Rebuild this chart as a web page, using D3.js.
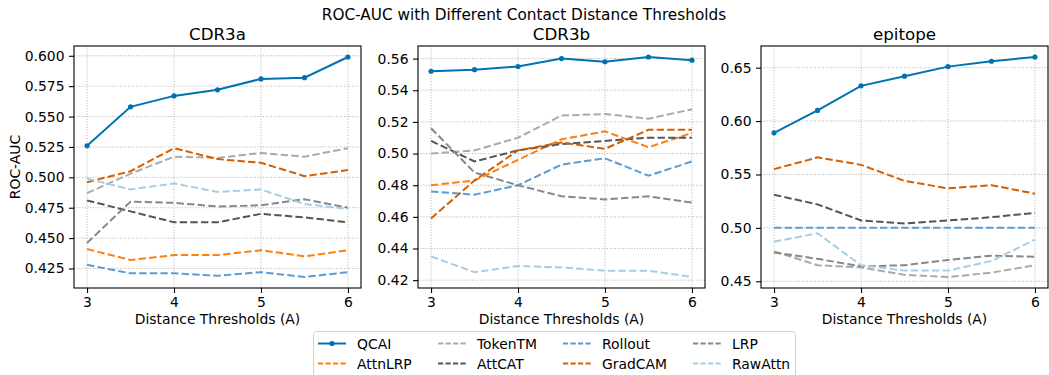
<!DOCTYPE html>
<html>
<head>
    <meta charset="UTF-8">
    <title>ROC-AUC thresholds</title>
    <style>
        body {
            margin: 0;
            overflow: hidden;
            background-color: #ffffff;
        }
        text {
            font-family: "DejaVu Sans", sans-serif;
            fill: #000;
        }
    </style>
    <script src="https://cdn.jsdelivr.net/npm/d3@7"></script>
</head>
<body>
    <script>
        // x values (distance thresholds) and methods, in plot order
        const thresholds = [3, 3.5, 4, 4.5, 5, 5.5, 6];
        const xTicks = [3, 4, 5, 6];
        const methods = ["QCAI", "AttnLRP", "TokenTM", "AttCAT", "Rollout", "GradCAM", "LRP", "RawAttn"];
        const panelNames = ["CDR3a", "CDR3b", "epitope"];

        // values per method (same order as methods)
        const cdr3aValues = [
            [0.526, 0.558, 0.567, 0.572, 0.581, 0.582, 0.599],
            [0.441, 0.432, 0.436, 0.436, 0.440, 0.435, 0.440],
            [0.487, 0.503, 0.517, 0.516, 0.520, 0.517, 0.524],
            [0.481, 0.472, 0.463, 0.463, 0.470, 0.467, 0.463],
            [0.428, 0.421, 0.421, 0.419, 0.422, 0.418, 0.422],
            [0.496, 0.505, 0.524, 0.515, 0.512, 0.501, 0.506],
            [0.446, 0.480, 0.479, 0.476, 0.477, 0.482, 0.475],
            [0.499, 0.490, 0.495, 0.488, 0.490, 0.478, 0.474]
        ];
        const cdr3bValues = [
            [0.552, 0.553, 0.555, 0.560, 0.558, 0.561, 0.559],
            [0.480, 0.483, 0.496, 0.509, 0.514, 0.504, 0.513],
            [0.500, 0.502, 0.510, 0.524, 0.525, 0.522, 0.528],
            [0.508, 0.495, 0.502, 0.506, 0.508, 0.510, 0.510],
            [0.476, 0.474, 0.480, 0.493, 0.497, 0.486, 0.495],
            [0.459, 0.483, 0.502, 0.507, 0.503, 0.515, 0.515],
            [0.516, 0.488, 0.480, 0.473, 0.471, 0.473, 0.469],
            [0.435, 0.425, 0.429, 0.428, 0.426, 0.426, 0.422]
        ];
        // AttnLRP is not visible in the epitope panel
        const epitopeValues = [
            [0.589, 0.610, 0.633, 0.642, 0.651, 0.656, 0.660],
            [null, null, null, null, null, null, null],
            [0.478, 0.465, 0.463, 0.456, 0.454, 0.458, 0.465],
            [0.531, 0.522, 0.507, 0.504, 0.507, 0.510, 0.514],
            [0.500, 0.500, 0.500, 0.500, 0.500, 0.500, 0.500],
            [0.555, 0.566, 0.559, 0.544, 0.537, 0.540, 0.532],
            [0.477, 0.471, 0.464, 0.465, 0.470, 0.474, 0.473],
            [0.487, 0.495, 0.465, 0.460, 0.460, 0.469, 0.489]
        ];
        const yTicksA = [0.425, 0.45, 0.475, 0.5, 0.525, 0.55, 0.575, 0.6];
        const yTicksB = [0.42, 0.44, 0.46, 0.48, 0.5, 0.52, 0.54, 0.56];
        const yTicksE = [0.45, 0.5, 0.55, 0.6, 0.65];

        const colors = ["#0072b2", "#ff7f0e", "#aaaaaa", "#555555", "#5b9bd5", "#d55e00", "#888888", "#a6cee3"];

        const width = 1049, height = 375;
        const svg = d3.select("body").append("svg")
            .attr("width", width).attr("height", height);

        const fs = 13.9;
        const panelLeft = [74, 418, 761];
        const pw = 287, plotTop = 46, plotBottom = 288;

        svg.append("text")
            .attr("x", 524).attr("y", 20)
            .attr("text-anchor", "middle")
            .style("font-size", "15.3px")
            .text("ROC-AUC with Different Contact Distance Thresholds");

        const allData = [cdr3aValues, cdr3bValues, epitopeValues];
        const allTicks = [yTicksA, yTicksB, yTicksE];
        const fmts = [d3.format(".3f"), d3.format(".2f"), d3.format(".2f")];

        allData.forEach((vals, p) => {
            const left = panelLeft[p];
            const g = svg.append("g");

            const x = d3.scaleLinear().domain([2.85, 6.15]).range([left, left + pw]);
            const [lo, hi] = d3.extent(vals.flat().filter(v => v != null));
            const pad = (hi - lo) * 0.05;
            const y = d3.scaleLinear().domain([lo - pad, hi + pad]).range([plotBottom, plotTop]);

            // grid
            g.selectAll(".gx").data(xTicks).join("line")
                .attr("x1", d => x(d)).attr("x2", d => x(d))
                .attr("y1", plotTop).attr("y2", plotBottom)
                .attr("stroke", "#b0b0b0").attr("stroke-width", 1)
                .attr("stroke-dasharray", "1,1.7");
            g.selectAll(".gy").data(allTicks[p]).join("line")
                .attr("x1", left).attr("x2", left + pw)
                .attr("y1", d => y(d)).attr("y2", d => y(d))
                .attr("stroke", "#b0b0b0").attr("stroke-width", 1)
                .attr("stroke-dasharray", "1,1.7");

            // lines
            const line = d3.line()
                .defined(d => d != null)
                .x((d, i) => x(thresholds[i]))
                .y(d => y(d));
            vals.forEach((v, m) => {
                if (v.every(d => d == null)) return;
                g.append("path")
                    .datum(v)
                    .attr("d", line)
                    .attr("fill", "none")
                    .attr("stroke", colors[m])
                    .attr("stroke-width", 2)
                    .attr("stroke-dasharray", m === 0 ? null : "7.4,3.2");
                if (m === 0) {
                    g.selectAll(".dot").data(v).join("circle")
                        .attr("cx", (d, i) => x(thresholds[i]))
                        .attr("cy", d => y(d))
                        .attr("r", 2.6)
                        .attr("fill", colors[m]);
                }
            });

            // frame
            g.append("rect")
                .attr("x", left).attr("y", plotTop)
                .attr("width", pw).attr("height", plotBottom - plotTop)
                .attr("fill", "none").attr("stroke", "#000").attr("stroke-width", 1.1);

            // axes
            const ax = g.append("g")
                .attr("transform", `translate(0,${plotBottom})`)
                .call(d3.axisBottom(x).tickValues(xTicks).tickFormat(d3.format("d"))
                    .tickSize(5).tickPadding(4));
            const ay = g.append("g")
                .attr("transform", `translate(${left},0)`)
                .call(d3.axisLeft(y).tickValues(allTicks[p]).tickFormat(fmts[p])
                    .tickSize(5).tickPadding(4.5));
            [ax, ay].forEach(a => {
                a.select(".domain").remove();
                a.selectAll("text").style("font-size", fs + "px")
                    .style("font-family", "DejaVu Sans").attr("fill", "#000");
                a.selectAll("line").attr("stroke", "#000").attr("stroke-width", 1.1);
            });

            // titles and labels
            g.append("text")
                .attr("x", left + pw / 2).attr("y", 40)
                .attr("text-anchor", "middle")
                .style("font-size", "16.7px")
                .text(panelNames[p]);
            g.append("text")
                .attr("x", left + pw / 2).attr("y", 324)
                .attr("text-anchor", "middle")
                .style("font-size", fs + "px")
                .text("Distance Thresholds (A)");
        });

        svg.append("text")
            .attr("transform", `translate(20,${(plotTop + plotBottom) / 2}) rotate(-90)`)
            .attr("text-anchor", "middle")
            .style("font-size", fs + "px")
            .text("ROC-AUC");

        // legend
        const lg = svg.append("g");
        lg.append("rect")
            .attr("x", 313.5).attr("y", 331.5)
            .attr("width", 482).attr("height", 60)
            .attr("rx", 3)
            .attr("fill", "#fff").attr("fill-opacity", 0.8)
            .attr("stroke", "#d0d0d0").attr("stroke-width", 1);
        const colX = [318, 438, 563, 693];
        const rowY = [343.5, 363.5];
        methods.forEach((name, m) => {
            const cx = colX[Math.floor(m / 2)];
            const cy = rowY[m % 2];
            lg.append("line")
                .attr("x1", cx).attr("x2", cx + 28)
                .attr("y1", cy).attr("y2", cy)
                .attr("stroke", colors[m]).attr("stroke-width", 2)
                .attr("stroke-dasharray", m === 0 ? null : "5.2,2.3");
            if (m === 0) {
                lg.append("circle").attr("cx", cx + 14).attr("cy", cy)
                    .attr("r", 2.6).attr("fill", colors[m]);
            }
            lg.append("text")
                .attr("x", cx + 39).attr("y", cy + 5)
                .style("font-size", fs + "px")
                .text(name);
        });
    </script>
</body>
</html>
